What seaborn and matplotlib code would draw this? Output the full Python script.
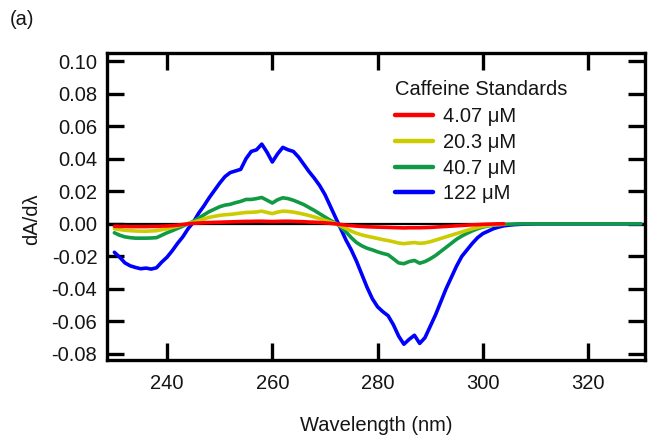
import numpy as np
import pandas as pd
import matplotlib
matplotlib.use("Agg")
import matplotlib.pyplot as plt
import seaborn as sns

# First-derivative UV spectra of caffeine standards
wl_long = list(range(230, 331))
wl_short = list(range(230, 305))

deriv_122 = [
    -0.0175, -0.0205, -0.0240, -0.0258, -0.0268, -0.0276, -0.0272, -0.0278, -0.0270, -0.0235,
    -0.0205, -0.0165, -0.0120, -0.0080, -0.0030, 0.0010, 0.0065, 0.0110, 0.0160, 0.0205,
    0.0250, 0.0290, 0.0315, 0.0325, 0.0335, 0.0400, 0.0445, 0.0455, 0.0490, 0.0440,
    0.0380, 0.0430, 0.0470, 0.0455, 0.0445, 0.0410, 0.0365, 0.0320, 0.0280, 0.0235,
    0.0180, 0.0110, 0.0040, -0.0030, -0.0100, -0.0160, -0.0230, -0.0310, -0.0390, -0.0460,
    -0.0510, -0.0540, -0.0565, -0.0620, -0.0690, -0.0740, -0.0710, -0.0685, -0.0735, -0.0700,
    -0.0630, -0.0560, -0.0480, -0.0400, -0.0330, -0.0260, -0.0200, -0.0160, -0.0120, -0.0085,
    -0.0060, -0.0045, -0.0030, -0.0020, -0.0012, -0.0008, -0.0005, -0.0003, -0.0002, -0.0001,
    0.0, 0.0, 0.0, 0.0, 0.0, 0.0, 0.0, 0.0, 0.0, 0.0,
    0.0, 0.0, 0.0, 0.0, 0.0, 0.0, 0.0, 0.0, 0.0, 0.0,
    0.0,
]

deriv_40_7 = [
    -0.0055, -0.0070, -0.0080, -0.0085, -0.0088, -0.0088, -0.0088, -0.0087, -0.0085, -0.0070,
    -0.0055, -0.0042, -0.0028, -0.0014, 0.0000, 0.0015, 0.0035, 0.0055, 0.0075, 0.0090,
    0.0105, 0.0115, 0.0120, 0.0130, 0.0138, 0.0150, 0.0150, 0.0155, 0.0162, 0.0145,
    0.0128, 0.0148, 0.0160, 0.0155, 0.0145, 0.0132, 0.0118, 0.0100, 0.0082, 0.0062,
    0.0042, 0.0022, 0.0005, -0.0020, -0.0050, -0.0085, -0.0115, -0.0135, -0.0150, -0.0160,
    -0.0172, -0.0182, -0.0190, -0.0215, -0.0240, -0.0245, -0.0232, -0.0225, -0.0242, -0.0232,
    -0.0215, -0.0195, -0.0170, -0.0145, -0.0120, -0.0095, -0.0075, -0.0058, -0.0043, -0.0030,
    -0.0020, -0.0013, -0.0008, -0.0005, -0.0003, -0.0002, -0.0001, 0.0, 0.0, 0.0,
    0.0, 0.0, 0.0, 0.0, 0.0, 0.0, 0.0, 0.0, 0.0, 0.0,
    0.0, 0.0, 0.0, 0.0, 0.0, 0.0, 0.0, 0.0, 0.0, 0.0,
    0.0,
]

deriv_20_3 = [
    -0.0030, -0.0035, -0.0040, -0.0042, -0.0044, -0.0045, -0.0045, -0.0044, -0.0042, -0.0036,
    -0.0030, -0.0022, -0.0014, -0.0006, 0.0002, 0.0010, 0.0020, 0.0030, 0.0040, 0.0046,
    0.0052, 0.0056, 0.0058, 0.0062, 0.0066, 0.0070, 0.0071, 0.0073, 0.0078, 0.0070,
    0.0063, 0.0072, 0.0078, 0.0076, 0.0072, 0.0066, 0.0059, 0.0051, 0.0042, 0.0032,
    0.0022, 0.0012, 0.0002, -0.0012, -0.0028, -0.0045, -0.0058, -0.0068, -0.0076, -0.0083,
    -0.0090, -0.0097, -0.0103, -0.0110, -0.0118, -0.0122, -0.0118, -0.0115, -0.0120, -0.0117,
    -0.0110, -0.0100, -0.0090, -0.0080, -0.0070, -0.0060, -0.0050, -0.0040, -0.0030, -0.0022,
    -0.0015, -0.0010, -0.0006, -0.0004, -0.0002,
]

deriv_4_07 = [
    -0.0015, -0.0016, -0.0016, -0.0017, -0.0017, -0.0017, -0.0017, -0.0016, -0.0016, -0.0014,
    -0.0013, -0.0011, -0.0008, -0.0004, 0.0000, 0.0003, 0.0005, 0.0007, 0.0008, 0.0009,
    0.0010, 0.0011, 0.0012, 0.0013, 0.0014, 0.0015, 0.0015, 0.0016, 0.0016, 0.0015,
    0.0014, 0.0015, 0.0016, 0.0016, 0.0015, 0.0014, 0.0013, 0.0011, 0.0010, 0.0008,
    0.0006, 0.0003, 0.0000, -0.0004, -0.0008, -0.0011, -0.0014, -0.0016, -0.0018, -0.0019,
    -0.0020, -0.0021, -0.0022, -0.0023, -0.0024, -0.0025, -0.0024, -0.0024, -0.0024, -0.0023,
    -0.0022, -0.0020, -0.0018, -0.0016, -0.0014, -0.0012, -0.0010, -0.0008, -0.0006, -0.0005,
    -0.0003, -0.0002, -0.0001, 0.0, 0.0,
]

labels = ["4.07 μM", "20.3 μM", "40.7 μM", "122 μM"]
colors = ["#ff0000", "#cccc00", "#109a44", "#0000ff"]
series = [(wl_short, deriv_4_07), (wl_short, deriv_20_3), (wl_long, deriv_40_7), (wl_long, deriv_122)]

frames = []
for lab, (wl, vals) in zip(labels, series):
    frames.append(pd.DataFrame({"Wavelength": wl, "dAdl": vals, "Standard": lab}))
df = pd.concat(frames, ignore_index=True)

sns.set_style("ticks")
plt.rcParams["font.family"] = ["Liberation Sans", "DejaVu Sans"]
plt.rcParams["font.size"] = 14.5
plt.rcParams["text.color"] = "#151515"

FS = 14.5
fig = plt.figure(figsize=(6.49, 4.36), dpi=100)
ax = fig.add_axes([0.1649, 0.1743, 0.8289, 0.7041])

ax.axhline(0, color="black", lw=1.6, zorder=1)

# draw order: blue, green, yellow, red
draw_order = [3, 2, 1, 0]
for i in draw_order:
    sub = df[df["Standard"] == labels[i]]
    sns.lineplot(data=sub, x="Wavelength", y="dAdl", color=colors[i], lw=2.6,
                 ax=ax, estimator=None, sort=False, label=labels[i], zorder=2 + (3 - i))

handles, labs = ax.get_legend_handles_labels()
hmap = dict(zip(labs, handles))
leg = ax.legend([hmap[l] for l in labels], labels, title="Caffeine Standards",
                loc="upper left", bbox_to_anchor=(0.536, 0.912), frameon=False,
                fontsize=FS, title_fontsize=FS, alignment="left",
                handlelength=1.85, handletextpad=0.5, labelspacing=0.33, borderpad=0,
                borderaxespad=0)
leg._legend_box.sep = 6
for ln in leg.get_lines():
    ln.set_linewidth(3.2)
for t in leg.get_texts():
    t.set_color("#151515")
leg.get_title().set_color("#151515")

ax.set_xlim(228.6, 330.8)
ax.set_ylim(-0.0837, 0.105)
ax.set_xticks([240, 260, 280, 300, 320])
ax.set_yticks(np.round(np.arange(-0.08, 0.101, 0.02), 2))
ax.yaxis.set_major_formatter(matplotlib.ticker.FormatStrFormatter("%.2f"))

for sp in ax.spines.values():
    sp.set_visible(True)
    sp.set_linewidth(2.4)
    sp.set_color("black")

ax.tick_params(axis="both", which="major", direction="in", length=12, width=2.4,
               top=True, right=True, labelsize=FS, colors="black", labelcolor="#151515")
ax.tick_params(axis="y", pad=7)
ax.tick_params(axis="x", pad=10)

ax.set_xlabel("Wavelength (nm)", fontsize=FS, color="#151515")
ax.set_ylabel("dA/dλ", fontsize=FS, color="#151515")
ax.xaxis.set_label_coords(0.5, -0.184)
ax.yaxis.set_label_coords(-0.122, 0.46)

fig.text(0.015, 0.955, "(a)", fontsize=FS, ha="left", va="center")

fig.savefig("out.png", dpi=100)
